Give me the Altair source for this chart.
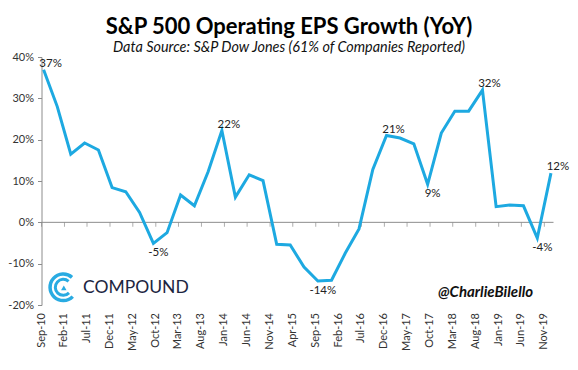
import altair as alt
import pandas as pd

# Quarterly observations (mid-month of each quarter end), Sep-10 .. Dec-19
quarters = list(pd.date_range("2010-09-15", periods=38, freq=pd.DateOffset(months=3)).strftime("%Y-%m-%d"))

eps_growth = [36.9, 28.0, 16.5, 19.2, 17.5, 8.4, 7.4, 2.4, -5.1, -2.5,
              6.6, 4.0, 12.3, 22.2, 6.1, 11.5, 10.1, -5.3, -5.5, -10.8,
              -14.2, -14.0, -7.5, -1.6, 12.8, 21.0, 20.4, 19.0, 9.2, 21.6,
              26.9, 26.9, 32.0, 3.8, 4.2, 4.0, -3.8, 11.9]

label_idx = [0, 8, 13, 20, 25, 28, 32, 36, 37]
label_text = ["37%", "-5%", "22%", "-14%", "21%", "9%", "32%", "-4%", "12%"]
label_side = ["above", "below", "above", "below", "above", "below", "above", "below", "above"]

y_ticks = [-20, -10, 0, 10, 20, 30, 40]
x_tick_dates = ["2010-09-01", "2011-02-01", "2011-07-01", "2011-12-01", "2012-05-01", "2012-10-01",
                "2013-03-01", "2013-08-01", "2014-01-01", "2014-06-01", "2014-11-01", "2015-04-01",
                "2015-09-01", "2016-02-01", "2016-07-01", "2016-12-01", "2017-05-01", "2017-10-01",
                "2018-03-01", "2018-08-01", "2019-01-01", "2019-06-01", "2019-11-01"]
x_tick_labels = ["Sep-10", "Feb-11", "Jul-11", "Dec-11", "May-12", "Oct-12", "Mar-13", "Aug-13",
                 "Jan-14", "Jun-14", "Nov-14", "Apr-15", "Sep-15", "Feb-16", "Jul-16", "Dec-16",
                 "May-17", "Oct-17", "Mar-18", "Aug-18", "Jan-19", "Jun-19", "Nov-19"]

df = pd.DataFrame({"date": quarters, "growth": eps_growth})
lab = pd.DataFrame({
    "date": [quarters[i] for i in label_idx],
    "growth": [eps_growth[i] for i in label_idx],
    "text": label_text,
    "side": label_side,
})
ticks_df = pd.DataFrame({"date": x_tick_dates, "label": x_tick_labels, "zero": [0] * len(x_tick_dates)})
zero_df = pd.DataFrame({"zero": [0]})

FONT = "Lato"
BLUE = "#1DA9E1"
GRAY = "#8C8C8C"


def dt(s):
    y, m, d = (int(v) for v in s.split("-"))
    return alt.DateTime(year=y, month=m, date=d, utc=True)


x_scale = alt.Scale(type="utc", domain=[dt("2010-09-01"), dt("2020-01-01")])
y_scale = alt.Scale(domain=[-20, 40])

y_axis = alt.Axis(values=y_ticks, labelExpr="datum.value + '%'", grid=False, title=None,
                  domainColor=GRAY, tickColor=GRAY, tickSize=4, labelPadding=4,
                  labelFont=FONT, labelFontSize=11, labelColor="#333333")

zero_line = alt.Chart(zero_df).mark_rule(color=GRAY, strokeWidth=1).encode(
    y=alt.Y("zero:Q", scale=y_scale, axis=y_axis)
)

zero_ticks = alt.Chart(ticks_df).mark_tick(color=GRAY, orient="vertical", size=4.5, thickness=1,
                                           yOffset=2.25).encode(
    x=alt.X("date:T", scale=x_scale, axis=None),
    y=alt.Y("zero:Q"),
)

x_labels = alt.Chart(ticks_df).mark_text(
    angle=270, align="right", baseline="middle", font=FONT, fontSize=11, color="#333333"
).encode(
    x=alt.X("date:T"),
    y=alt.value(256),
    text="label:N",
)

line = alt.Chart(df).mark_line(color=BLUE, strokeWidth=3).encode(
    x=alt.X("date:T"),
    y=alt.Y("growth:Q"),
)

above = alt.Chart(lab).transform_filter("datum.side == 'above'").mark_text(
    font=FONT, fontSize=11.5, color="#222222", baseline="alphabetic", dy=-3, dx=7
).encode(x="date:T", y="growth:Q", text="text:N")

below = alt.Chart(lab).transform_filter("datum.side == 'below'").mark_text(
    font=FONT, fontSize=11.5, color="#222222", baseline="top", dy=4, dx=5
).encode(x="date:T", y="growth:Q", text="text:N")

one = pd.DataFrame({"k": [0]})
ring_outer = alt.Chart(one).mark_arc(theta=2.35, theta2=7.0, radius=15, radius2=11.5, color="#29ABE2").encode(
    x=alt.value(21.8), y=alt.value(230.3))
ring_inner = alt.Chart(one).mark_arc(theta=2.35, theta2=7.0, radius=9.5, radius2=6.5, color="#29ABE2").encode(
    x=alt.value(21.8), y=alt.value(230.3))
tri = alt.Chart(one).mark_point(shape="triangle-up", filled=True, size=30, color="#29ABE2", opacity=1).encode(
    x=alt.value(22.3), y=alt.value(230.8))
compound = alt.Chart(one).mark_text(text="COMPOUND", font=FONT, fontSize=17.5, color="#1C2541",
                                     align="left", baseline="alphabetic").encode(
    x=alt.value(41.5), y=alt.value(235.5))
handle = alt.Chart(one).mark_text(text="@CharlieBilello", font=FONT, fontSize=15, fontStyle="italic",
                                   fontWeight="bold", color="#111111", align="left", baseline="alphabetic").encode(
    x=alt.value(396.5), y=alt.value(240))

chart = alt.layer(zero_line, zero_ticks, x_labels, line, above, below,
                  ring_outer, ring_inner, tri, compound, handle).properties(
    width=512, height=248,
    autosize=alt.AutoSizeParams(type="none"),
    padding={"left": 33.5, "top": 49, "right": 16.5, "bottom": 57},
    title=alt.TitleParams(
        "S&P 500 Operating EPS Growth (YoY)",
        subtitle="Data Source: S&P Dow Jones (61% of Companies Reported)",
        font=FONT, fontSize=22, fontWeight="bold", color="#000000",
        subtitleFont=FONT, subtitleFontSize=14.4, subtitleFontStyle="italic", subtitleColor="#111111",
        anchor="middle", frame="group", dx=-8.5, offset=-4, subtitlePadding=2,
    ),
).configure_view(stroke=None)

chart.save("out.html", embed_options={"renderer": "svg", "actions": False})
